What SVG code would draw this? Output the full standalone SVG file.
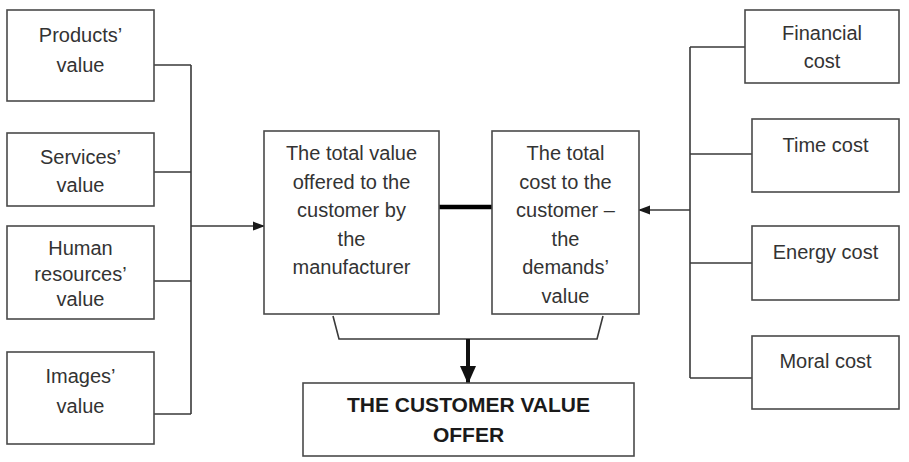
<svg xmlns="http://www.w3.org/2000/svg" width="909" height="462" viewBox="0 0 909 462">
<style>
.box{fill:#fff;stroke:#4a4a4a;stroke-width:1.6}
.ln{fill:none;stroke:#3a3a3a;stroke-width:1.6}
text{font-family:"Liberation Sans",Arial,sans-serif;font-size:20px;fill:#333;text-anchor:middle}
.b{font-weight:bold;fill:#1a1a1a;font-size:21px}
</style>
<defs>
<marker id="ah" markerWidth="12" markerHeight="12" refX="11" refY="6" orient="auto" markerUnits="userSpaceOnUse">
<path d="M0,1.5 L12,6 L0,10.5 Z" fill="#1a1a1a"/>
</marker>
<marker id="big" markerWidth="18" markerHeight="16" refX="17" refY="8" orient="auto" markerUnits="userSpaceOnUse">
<path d="M0,0 L18,8 L0,16 Z" fill="#111"/>
</marker>
</defs>
<rect width="909" height="462" fill="#fff"/>
<g id="connectors">
<path class="ln" d="M154,65 H191 M154,172 H191 M154,281 H191 M154,414 H191 M191,65 V414"/>
<path class="ln" d="M191,226 H264" marker-end="url(#ah)"/>
<path class="ln" d="M745,47 H690 M752,154 H690 M752,263 H690 M752,378 H690 M690,47 V378"/>
<path class="ln" d="M690,210 H639" marker-end="url(#ah)"/>
<path d="M439,207 H492" stroke="#000" stroke-width="4.5" fill="none"/>
<path class="ln" d="M333,316 L339,339 H597 L603,316"/>
<path d="M468,339 V383" stroke="#111" stroke-width="4" fill="none" marker-end="url(#big)"/>
</g>
<g id="products"><rect class="box" x="7" y="10" width="147" height="91"/><text x="80.5" y="42">Products’</text><text x="80.5" y="72">value</text></g>
<g id="services"><rect class="box" x="7" y="133" width="147" height="73"/><text x="80.5" y="164">Services’</text><text x="80.5" y="192">value</text></g>
<g id="human"><rect class="box" x="7" y="226" width="147" height="93"/><text x="80.5" y="255">Human</text><text x="80.5" y="281">resources’</text><text x="80.5" y="306">value</text></g>
<g id="images"><rect class="box" x="7" y="352" width="147" height="92"/><text x="80.5" y="383">Images’</text><text x="80.5" y="413">value</text></g>
<g id="totalvalue"><rect class="box" x="264" y="131" width="175" height="183"/>
<text x="351.5" y="160">The total value</text><text x="351.5" y="188.5">offered to the</text><text x="351.5" y="217">customer by</text><text x="351.5" y="245.5">the</text><text x="351.5" y="274">manufacturer</text></g>
<g id="totalcost"><rect class="box" x="492" y="131" width="147" height="183"/>
<text x="565.5" y="160">The total</text><text x="565.5" y="188.5">cost to the</text><text x="565.5" y="217">customer –</text><text x="565.5" y="245.5">the</text><text x="565.5" y="274">demands’</text><text x="565.5" y="302.5">value</text></g>
<g id="financial"><rect class="box" x="745" y="10" width="154" height="73"/><text x="822" y="40">Financial</text><text x="822" y="68">cost</text></g>
<g id="time"><rect class="box" x="752" y="119" width="147" height="73"/><text x="825.5" y="152">Time cost</text></g>
<g id="energy"><rect class="box" x="752" y="226" width="147" height="74"/><text x="825.5" y="259">Energy cost</text></g>
<g id="moral"><rect class="box" x="752" y="336" width="147" height="73"/><text x="825.5" y="368">Moral cost</text></g>
<g id="offer"><rect class="box" x="303" y="383" width="331" height="73"/><text class="b" x="468.5" y="412">THE CUSTOMER VALUE</text><text class="b" x="468.5" y="442">OFFER</text></g>
</svg>
